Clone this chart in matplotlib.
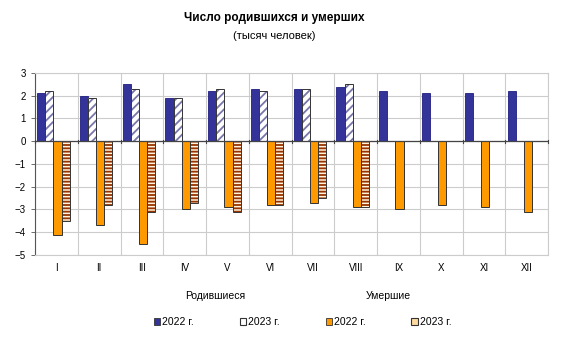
import numpy as np
import matplotlib.pyplot as plt
from matplotlib.patches import Patch

plt.rcParams['font.family'] = ['Liberation Sans', 'DejaVu Sans']
plt.rcParams['hatch.linewidth'] = 1.3

months = ['I', 'II', 'III', 'IV', 'V', 'VI', 'VII', 'VIII', 'IX', 'X', 'XI', 'XII']
births_2022 = [2.1, 2.0, 2.5, 1.9, 2.2, 2.3, 2.3, 2.4, 2.2, 2.1, 2.1, 2.2]
births_2023 = [2.2, 1.9, 2.3, 1.9, 2.3, 2.2, 2.3, 2.5]
deaths_2022 = [-4.1, -3.7, -4.5, -3.0, -2.9, -2.8, -2.7, -2.9, -3.0, -2.8, -2.9, -3.1]
deaths_2023 = [-3.5, -2.8, -3.1, -2.7, -3.1, -2.8, -2.5, -2.9]
labels = ['2022 г.', '2023 г.', '2022 г.', '2023 г.']

fig = plt.figure(figsize=(5.71, 3.54), dpi=100)
ax = fig.add_axes([0.0613, 0.2797, 0.8987, 0.5141])

x = np.arange(len(months))
w = 0.19
shift = -0.07

ax.bar(x[:len(births_2022)] + shift - 1.5 * w, births_2022, w,
       color='#333399', edgecolor='#1f1f80', linewidth=0.6, zorder=3)
ax.bar(x[:len(births_2023)] + shift - 0.5 * w, births_2023, w,
       color='white', edgecolor='#7777aa', hatch='////', linewidth=0, zorder=3)
ax.bar(x[:len(births_2023)] + shift - 0.5 * w, births_2023, w,
       color='none', edgecolor='#333333', linewidth=0.7, zorder=4)
ax.bar(x[:len(deaths_2022)] + shift + 0.5 * w, deaths_2022, w,
       color='#FF9900', edgecolor='#333333', linewidth=0.7, zorder=3)
ax.bar(x[:len(deaths_2023)] + shift + 1.5 * w, deaths_2023, w,
       color='#FFF4DC', edgecolor='#993300', hatch='-----', linewidth=0, zorder=3)
ax.bar(x[:len(deaths_2023)] + shift + 1.5 * w, deaths_2023, w,
       color='none', edgecolor='#333333', linewidth=0.7, zorder=4)

ax.set_xlim(-0.5, len(months) - 0.5)
ax.set_ylim(-5, 3)
ax.set_yticks(range(-5, 4))
ax.set_xticks(x)
ax.set_xticklabels(months)
ax.set_xticks(np.arange(-0.5, len(months)), minor=True)
ax.tick_params(axis='x', which='both', length=0, labelsize=7, pad=6)
ax.tick_params(axis='y', length=3, labelsize=7, width=0.6, color='#555555')
ax.grid(True, which='major', axis='y', color='#cccccc', linewidth=0.8, zorder=0)
ax.grid(True, which='minor', axis='x', color='#cccccc', linewidth=0.8, zorder=0)

for s in ['top', 'right', 'bottom']:
    ax.spines[s].set_color('#cccccc')
    ax.spines[s].set_linewidth(0.8)
ax.spines['left'].set_color('#555555')
ax.spines['left'].set_linewidth(0.8)

# zero line with tick marks at category boundaries
ax.axhline(0, color='#444444', linewidth=0.9, zorder=5)
for b in np.arange(-0.5, len(months)):
    ax.plot([b, b], [-0.06, 0.06], color='#444444', linewidth=0.8, zorder=5,
            clip_on=False)

fig.text(0.48, 0.948, 'Число родившихся и умерших', ha='center', va='center',
         fontsize=8.5, fontweight='bold')
fig.text(0.48, 0.898, '(тысяч человек)', ha='center', va='center', fontsize=8)

fig.text(0.377, 0.165, 'Родившиеся', ha='center', va='center', fontsize=7.5)
fig.text(0.68, 0.165, 'Умершие', ha='center', va='center', fontsize=7.5)

handles = [Patch(facecolor='#333399', edgecolor='#333333', linewidth=0.6),
           Patch(facecolor='white', edgecolor='#333333', linewidth=0.8),
           Patch(facecolor='#FF9900', edgecolor='#333333', linewidth=0.6),
           Patch(facecolor='#FFD9A0', edgecolor='#333333', linewidth=0.8)]
fig.legend(handles, labels, loc='center', bbox_to_anchor=(0.53, 0.09), ncol=4,
           frameon=False, fontsize=7.5, handlelength=0.6, handleheight=0.6,
           handletextpad=0.2, columnspacing=4.4)

fig.savefig('out.png', dpi=100)
